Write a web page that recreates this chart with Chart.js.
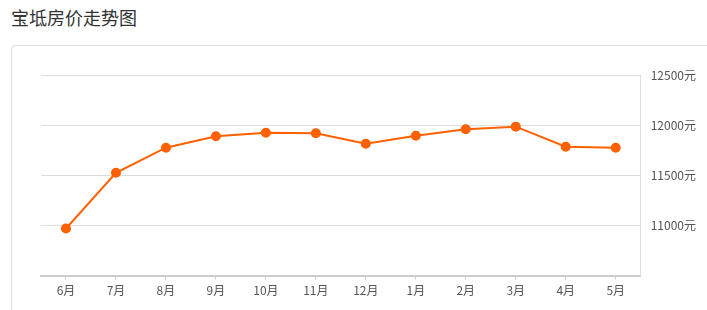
<!DOCTYPE html>
<html>
<head>
<meta charset="utf-8">
<script src="https://cdn.jsdelivr.net/npm/chart.js@4/dist/chart.umd.min.js"></script>
<style>
  body { margin: 0; background: #fff; font-family: "Noto Sans CJK SC", sans-serif; }
  #wrap { position: relative; width: 707px; height: 310px; overflow: hidden; }
  h3 { position: absolute; left: 11px; top: 4px; margin: 0; font-size: 18px; line-height: 26px; font-weight: normal; color: #333; }
  .card { position: absolute; left: 11px; top: 45px; width: 720px; height: 300px; border: 1px solid #ddd; border-radius: 4px; }
  #priceChart { position: absolute; left: 0; top: 0; }
</style>
</head>
<body>
<div id="wrap">
  <h3>宝坻房价走势图</h3>
  <div class="card"></div>
  <canvas id="priceChart" width="707" height="310"></canvas>
</div>
<script>
/* monthly average price */
const months = ["6月", "7月", "8月", "9月", "10月", "11月", "12月", "1月", "2月", "3月", "4月", "5月"];
const prices = [10970, 11525, 11775, 11890, 11925, 11920, 11815, 11895, 11960, 11985, 11785, 11775];
const yTicks = [10500, 11000, 11500, 12000, 12500];

const ctx = document.getElementById("priceChart");
let priceChart = new Chart(ctx, {
    type: 'line',
    data: {
        labels: months,
        datasets: [
            {
                data: prices,
                borderColor: "#ff6000",
                backgroundColor: "#ff6000",
                borderWidth: 2,
                pointRadius: 4,
                pointHoverRadius: 5,
                tension: 0
            }
        ]
    },
    options: {
        responsive: false,
        animation: false,
        layout: { padding: { left: 41, top: 75, right: 1, bottom: 8 } },
        plugins: { legend: { display: false }, tooltip: { enabled: false } },
        scales: {
            x: {
                offset: true,
                grid: { offset: false, drawOnChartArea: false, tickLength: 4, color: "#ccc" },
                border: { color: "#ccc", width: 2 },
                ticks: { color: "#555", font: { size: 12, family: "Noto Sans CJK SC" }, padding: 4 }
            },
            y: {
                position: 'right',
                min: yTicks[0],
                max: yTicks[yTicks.length - 1],
                afterBuildTicks: (axis) => { axis.ticks = yTicks.map(v => ({ value: v })); },
                grid: { color: "#ddd", drawTicks: false },
                border: { color: "#ddd" },
                ticks: {
                    color: "#555",
                    padding: 10,
                    font: { size: 12, family: "Noto Sans CJK SC" },
                    callback: (v) => v === yTicks[0] ? '' : v + '元'
                }
            }
        }
    }
});
</script>
</body>
</html>
